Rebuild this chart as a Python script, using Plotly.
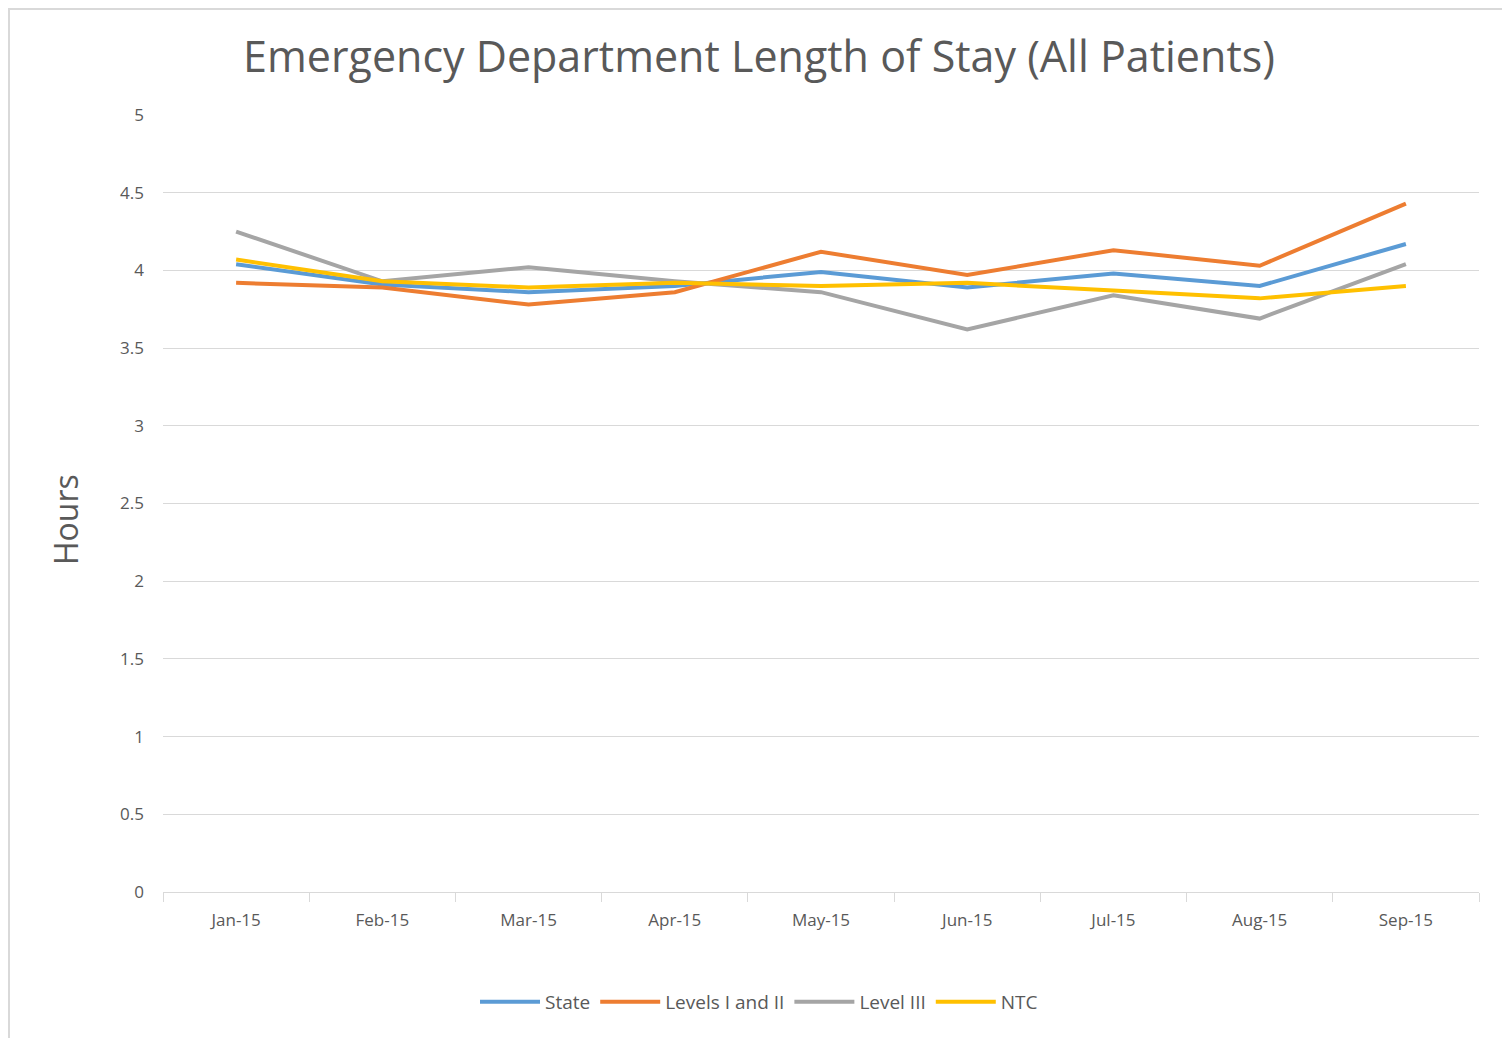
import plotly.graph_objects as go

months = ["Jan-15", "Feb-15", "Mar-15", "Apr-15", "May-15", "Jun-15", "Jul-15", "Aug-15", "Sep-15"]
state = [4.04, 3.91, 3.86, 3.90, 3.99, 3.89, 3.98, 3.90, 4.17]
levels_1_2 = [3.92, 3.89, 3.78, 3.86, 4.12, 3.97, 4.13, 4.03, 4.43]
level_3 = [4.25, 3.93, 4.02, 3.93, 3.86, 3.62, 3.84, 3.69, 4.04]
ntc = [4.07, 3.93, 3.89, 3.92, 3.90, 3.92, 3.87, 3.82, 3.90]

series_names = ["State", "Levels I and II", "Level III", "NTC"]
series_values = [state, levels_1_2, level_3, ntc]
series_colors = ["#5B9BD5", "#ED7D31", "#A5A5A5", "#FFC000"]

y_ticks = [0, 0.5, 1, 1.5, 2, 2.5, 3, 3.5, 4, 4.5, 5]

fig = go.Figure()
for name, vals, col in zip(series_names, series_values, series_colors):
    fig.add_trace(go.Scatter(x=months, y=vals, name=name, mode="lines",
                             line=dict(color=col, width=4)))

font_family = "Open Sans, Noto Sans, sans-serif"
OFF = 8  # page body margin
W, H = 1510 - OFF, 1038 - OFF
L, T = 163 - OFF, 115 - OFF
pw, ph = 1316, 777
R = W - L - pw
B = H - T - ph

def px_x(p):
    return (p - OFF - L) / pw

def px_y(p):
    return (T + ph - (p - OFF)) / ph

fig.update_layout(
    width=W, height=H,
    margin=dict(l=L, r=R, t=T, b=B),
    paper_bgcolor="white", plot_bgcolor="white",
    title=dict(text="Emergency Department Length of Stay (All Patients)",
               x=0.5, xanchor="center", xref="container",
               y=1 - (57 - OFF) / H, yanchor="middle", yref="container",
               font=dict(family=font_family, size=43, color="#595959")),
    font=dict(family=font_family, color="#595959"),
    showlegend=True,
    legend=dict(orientation="h", x=px_x(759), xanchor="center",
                y=px_y(1002), yanchor="middle",
                font=dict(size=19, color="#595959"),
                itemwidth=60, tracegroupgap=0),
    xaxis=dict(type="category", range=[-0.5, 8.5],
               showgrid=False, showline=True, linecolor="#d9d9d9", linewidth=1,
               ticks="outside", tickson="boundaries", ticklen=9, tickcolor="#d9d9d9",
               tickfont=dict(size=17, color="#595959"),
               ticklabelstandoff=13, fixedrange=True),
    yaxis=dict(range=[0, 5], tickvals=y_ticks,
               ticktext=[f"{v:g}" for v in y_ticks],
               showgrid=True, gridcolor="#d9d9d9", gridwidth=1,
               zeroline=False, showline=False, ticks="",
               tickfont=dict(size=17, color="#595959"),
               ticklabelstandoff=18, fixedrange=True),
    annotations=[dict(text="Hours", textangle=-90, xref="paper", yref="paper",
                      x=px_x(65), y=px_y(520), xanchor="center", yanchor="middle",
                      showarrow=False, font=dict(size=32, color="#595959", family=font_family))],
    shapes=[dict(type="rect", xref="paper", yref="paper",
                 x0=px_x(9), x1=px_x(1506), y0=px_y(1050), y1=px_y(9),
                 line=dict(color="#d9d9d9", width=2), layer="below")],
)

fig.write_html("out.html")
